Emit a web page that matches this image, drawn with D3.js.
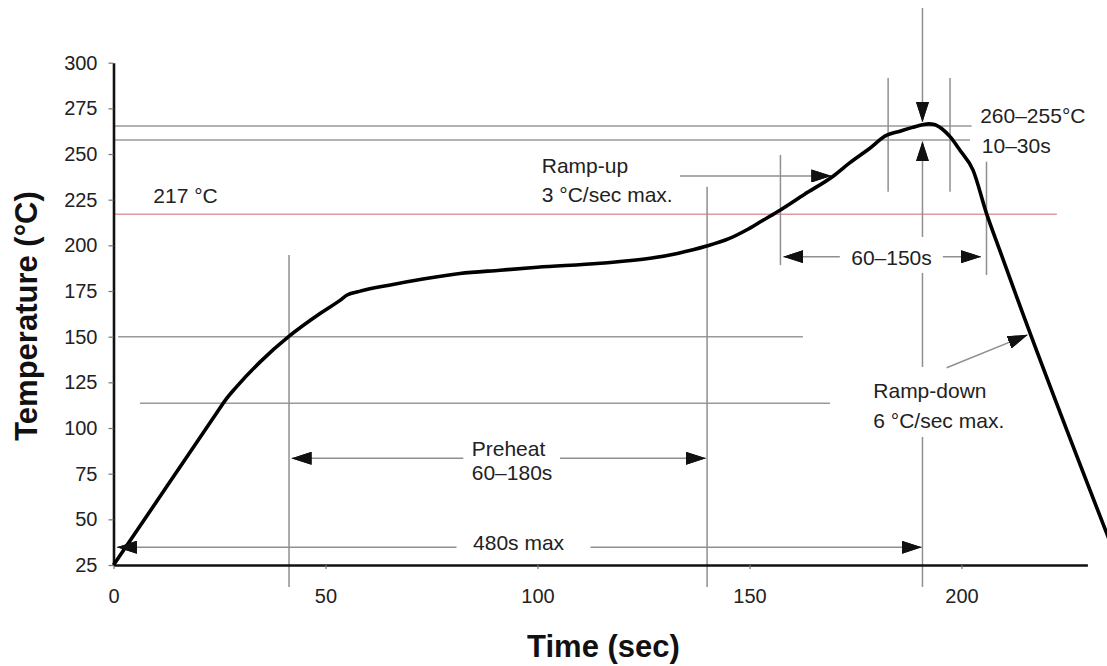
<!DOCTYPE html>
<html><head><meta charset="utf-8">
<script src="https://cdn.jsdelivr.net/npm/d3@7"></script>
<style>
body{margin:0;background:#fff}
svg{display:block}
text{font-family:"Liberation Sans",Arial,Helvetica,sans-serif}
</style>
</head><body>
<svg id="c" width="1107" height="666"></svg>
<script>
// ---- data ----
const timeTicks = [0, 50, 100, 150, 200];
const tempTicks = [25, 50, 75, 100, 125, 150, 175, 200, 225, 250, 275, 300];

const profileTime = [0, 12, 24, 26.4, 29, 34.6, 41.5, 48.8, 53.5, 55.1, 58, 65, 73, 81.7, 91.2, 100, 114.8, 126.6, 133, 139.9, 145, 149.3, 153, 157.3, 163, 169.8, 173.7, 178, 182.4, 185.5, 188.5, 190.8, 192.3, 193.6, 195.3, 197.3, 199.6, 202.7, 205.9, 209, 213, 236];
const profileTemp = [25, 66, 107.1, 115.3, 122.5, 136.2, 150.4, 162.8, 170, 172.8, 174.8, 178.2, 181.6, 184.6, 186.4, 188, 190.2, 192.9, 195.6, 199.6, 203.5, 208.4, 213.5, 219.4, 228, 238, 245.3, 252.5, 260.3, 262.5, 264.6, 266, 266.5, 266.2, 264, 259.5, 252.2, 241.3, 217.5, 197.5, 171.9, 32];

// horizontal reference levels: [temp, fromTime, toTime]
const levelTemps = [265.4, 257.7, 150, 113.5];
const levelFrom  = [0, 0, 1.1, 6.25];
const levelTo    = [202.4, 202.0, 162.6, 169.0];
const liquidus = [217, 0, 222.5];

// guide segments: [t0, v0, t1, v1, arrowAtEnd]
const guides = [
  [41.4, 194.7, 41.4, 13, 0],
  [140.0, 232.1, 140.0, 13, 0],
  [157.3, 249.5, 157.3, 189.2, 0],
  [182.7, 291.6, 182.7, 229.4, 0],
  [197.3, 291.6, 197.3, 229.4, 0],
  [205.9, 245.8, 205.9, 183.8, 0],
  [190.8, 330, 190.8, 267.6, 1],
  [190.8, 13, 190.8, 95.1, 0],
  [190.8, 133.4, 190.8, 184.9, 0],
  [190.8, 204.6, 190.8, 256.9, 1],
  [133.6, 238, 169.3, 238, 1],
  [171.3, 193.8, 158.0, 193.8, 1],
  [195.6, 193.8, 204.6, 193.8, 1],
  [82.5, 83.4, 42.0, 83.4, 1],
  [105.3, 83.4, 139.7, 83.4, 1],
  [80.9, 34.7, 0.8, 34.7, 1],
  [112.5, 34.7, 190.6, 34.7, 1],
  [196.5, 133, 215.6, 151, 1]
];

// labels: [text, time, temp, anchor]
const labels = [
  ["217 °C", 9.4, 223.0, "start"],
  ["Ramp-up", 101.0, 239.7, "start"],
  ["3 °C/sec max.", 101.0, 223.8, "start"],
  ["260–255°C", 204.4, 267.2, "start"],
  ["10–30s", 204.8, 250.7, "start"],
  ["60–150s", 183.5, 189.2, "middle"],
  ["Preheat", 84.5, 84.7, "start"],
  ["60–180s", 84.5, 71.5, "start"],
  ["480s max", 84.8, 33.2, "start"],
  ["Ramp-down", 179.2, 116.3, "start"],
  ["6 °C/sec max.", 179.2, 99.8, "start"]
];

// ---- drawing ----
const svg = d3.select("#c");
const x = d3.scaleLinear().domain([0, 229.7]).range([113.5, 1087.4]);
const y = d3.scaleLinear().domain([25, 300]).range([565, 62.7]);

const defs = svg.append("defs");
defs.append("marker").attr("id", "ah")
  .attr("viewBox", "0 0 20 13").attr("refX", 20).attr("refY", 6.5)
  .attr("markerWidth", 20).attr("markerHeight", 13)
  .attr("markerUnits", "userSpaceOnUse").attr("orient", "auto")
  .append("path").attr("d", "M0,0L20,6.5L0,13Z").attr("fill", "#111");

// reference levels
svg.append("g").selectAll("line").data(levelTemps).join("line")
  .attr("x1", (d, i) => x(levelFrom[i])).attr("x2", (d, i) => x(levelTo[i]))
  .attr("y1", d => y(d)).attr("y2", d => y(d))
  .attr("stroke", "#9a9a9a").attr("stroke-width", 1.5);
svg.append("line")
  .attr("x1", x(liquidus[1])).attr("x2", x(liquidus[2]))
  .attr("y1", y(liquidus[0])).attr("y2", y(liquidus[0]))
  .attr("stroke", "#dc9aa2").attr("stroke-width", 1.5);

// guides
svg.append("g").selectAll("line").data(guides).join("line")
  .attr("x1", d => x(d[0])).attr("y1", d => y(d[1]))
  .attr("x2", d => x(d[2])).attr("y2", d => y(d[3]))
  .attr("stroke", "#8f8f8f").attr("stroke-width", 1.5)
  .attr("marker-end", d => d[4] ? "url(#ah)" : null);

// axes
const yAxis = svg.append("g").attr("transform", `translate(${x(0)},0)`)
  .call(d3.axisLeft(y).tickValues(tempTicks).tickSize(5).tickSizeOuter(0).tickPadding(11));
const xAxis = svg.append("g").attr("transform", `translate(0,${y(25)})`)
  .call(d3.axisBottom(x).tickValues(timeTicks).tickSize(4).tickSizeOuter(0).tickPadding(20));
[yAxis, xAxis].forEach(g => {
  g.select(".domain").attr("stroke", "#111").attr("stroke-width", 2.6);
  g.selectAll(".tick line").attr("stroke", "#777").attr("stroke-width", 1.2);
  g.selectAll(".tick text").attr("fill", "#222").style("font-size", "20px")
    .style("font-family", '"Liberation Sans",Arial,Helvetica,sans-serif');
});

// profile curve
const pts = profileTime.map((t, i) => [t, profileTemp[i]]);
svg.append("path").datum(pts)
  .attr("d", d3.line().x(d => x(d[0])).y(d => y(d[1])).curve(d3.curveMonotoneX))
  .attr("fill", "none").attr("stroke", "#000").attr("stroke-width", 3.6)
  .attr("stroke-linejoin", "round");

// arrowheads again on top of curve
svg.append("g").selectAll("line").data(guides.filter(d => d[4])).join("line")
  .attr("x1", d => x(d[2]) - (x(d[2]) - x(d[0])) * 0.001).attr("y1", d => y(d[3]) - (y(d[3]) - y(d[1])) * 0.001)
  .attr("x2", d => x(d[2])).attr("y2", d => y(d[3]))
  .attr("stroke", "none")
  .attr("marker-end", "url(#ah)");

// labels
svg.append("g").selectAll("text").data(labels).join("text")
  .attr("x", d => x(d[1])).attr("y", d => y(d[2]))
  .attr("text-anchor", d => d[3])
  .attr("fill", "#222").style("font-size", "21px")
  .text(d => d[0]);

// axis titles
svg.append("text").attr("transform", "translate(37,316) rotate(-90)")
  .attr("text-anchor", "middle").style("font-size", "31px").style("font-weight", "bold")
  .attr("fill", "#111").text("Temperature (°C)");
svg.append("text").attr("x", 603.5).attr("y", 657)
  .attr("text-anchor", "middle").style("font-size", "31px").style("font-weight", "bold")
  .attr("fill", "#111").text("Time (sec)");
</script>
</body></html>
